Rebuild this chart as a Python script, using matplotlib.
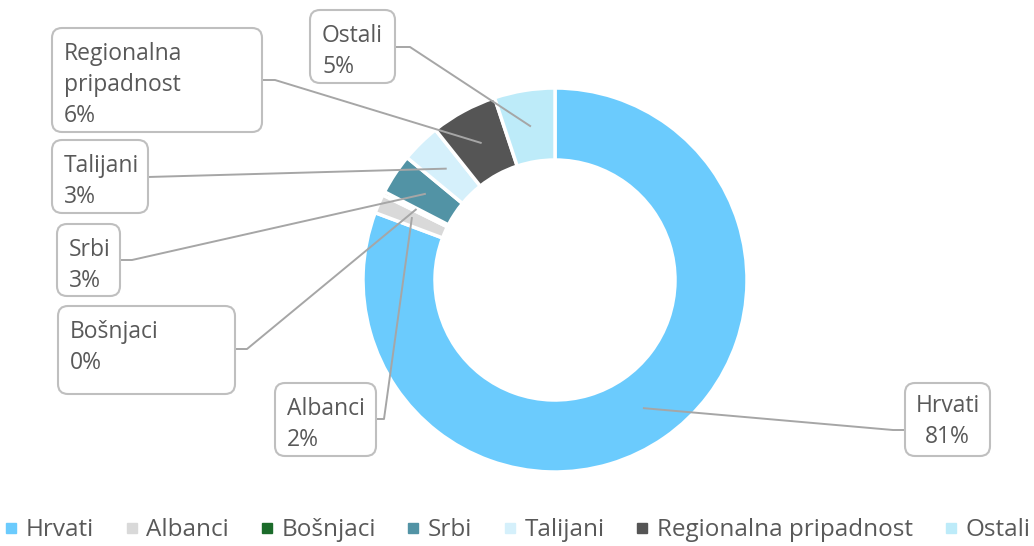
import matplotlib.pyplot as plt
from matplotlib.patches import FancyBboxPatch
from matplotlib.lines import Line2D
import numpy as np

plt.rcParams['font.family'] = ['Open Sans', 'DejaVu Sans']

# data
groups = ['Hrvati', 'Albanci', 'Bošnjaci', 'Srbi', 'Talijani',
          'Regionalna pripadnost', 'Ostali']
shares = [80.7, 1.6, 0.3, 3.4, 3.3, 5.6, 5.1]
label_names = ['Hrvati', 'Albanci', 'Bošnjaci', 'Srbi', 'Talijani',
               'Regionalna\npripadnost', 'Ostali']
colors = ['#6BCBFD', '#D9D9D9', '#1B6B2A', '#5293A5', '#D5F0FB',
          '#555555', '#BDEBF9']

# figure in pixel units (y measured from top, flipped below)
W, H = 1034, 546
fig = plt.figure(figsize=(W / 100, H / 100), dpi=100)
ax = fig.add_axes([0, 0, 1, 1])
ax.axis('off')

cx, cy = 555, H - 280
R, ring = 192, 72
wedges, _ = ax.pie(shares, colors=colors, startangle=90, counterclock=False,
                   radius=R, center=(cx, cy),
                   wedgeprops=dict(width=ring, edgecolor='white', linewidth=2.5))
ax.set_xlim(0, W)
ax.set_ylim(0, H)
ax.set_aspect('auto')

# label boxes: (x0, y0, x1, y1) from top
boxes = [
    (905, 383, 990, 456),   # Hrvati
    (275, 383, 376, 456),   # Albanci
    (58, 306, 235, 394),    # Bosnjaci
    (57, 224, 120, 296),    # Srbi
    (52, 140, 148, 213),    # Talijani
    (52, 28, 262, 132),     # Regionalna
    (310, 10, 395, 83),     # Ostali
]
# leader start (x, y from top, elbow length)
anchors = [(905, 430, -12), (376, 419, 8), (235, 349, 12), (120, 260, 12),
           (148, 177, 0), (262, 80, 13), (395, 47, 15)]

txt_color = '#595959'
line_color = '#A6A6A6'
r_mid = R - ring / 2

for i, w in enumerate(wedges):
    x0, y0, x1, y1 = boxes[i]
    box = FancyBboxPatch((x0 + 8, H - y1 + 8), x1 - x0 - 16, y1 - y0 - 16,
                         boxstyle='round,pad=8,rounding_size=10',
                         facecolor='white', edgecolor='#BFBFBF', linewidth=1.5,
                         zorder=3)
    ax.add_patch(box)
    s = label_names[i] + '\n' + f'{shares[i]:.0f}%'
    if i == 0:
        ax.text((x0 + x1) / 2, H - (y0 + y1) / 2 - 2, s, ha='center', va='center',
                fontsize=16.5, color=txt_color, linespacing=1.38, zorder=4)
    else:
        ax.text(x0 + 12, H - y0 - 14, s, ha='left', va='top',
                fontsize=16.5, color=txt_color, linespacing=1.38, zorder=4)

    ang = np.radians((w.theta1 + w.theta2) / 2)
    tx = cx + r_mid * np.cos(ang)
    ty = cy + r_mid * np.sin(ang)
    sx, sy, el = anchors[i]
    ax.add_line(Line2D([sx, sx + el, tx], [H - sy, H - sy, ty],
                       color=line_color, linewidth=1.4, zorder=2))

handles = [Line2D([], [], marker='s', linestyle='none', markersize=7,
                  markerfacecolor=c, markeredgecolor=c) for c in colors]
fig.legend(handles, groups, loc='lower center', ncol=7,
           bbox_to_anchor=(0.5, -0.033), frameon=False, fontsize=17.5,
           handlelength=0.6, handletextpad=0.3, columnspacing=1.25,
           labelcolor=txt_color)

fig.savefig('out.png', dpi=100)
